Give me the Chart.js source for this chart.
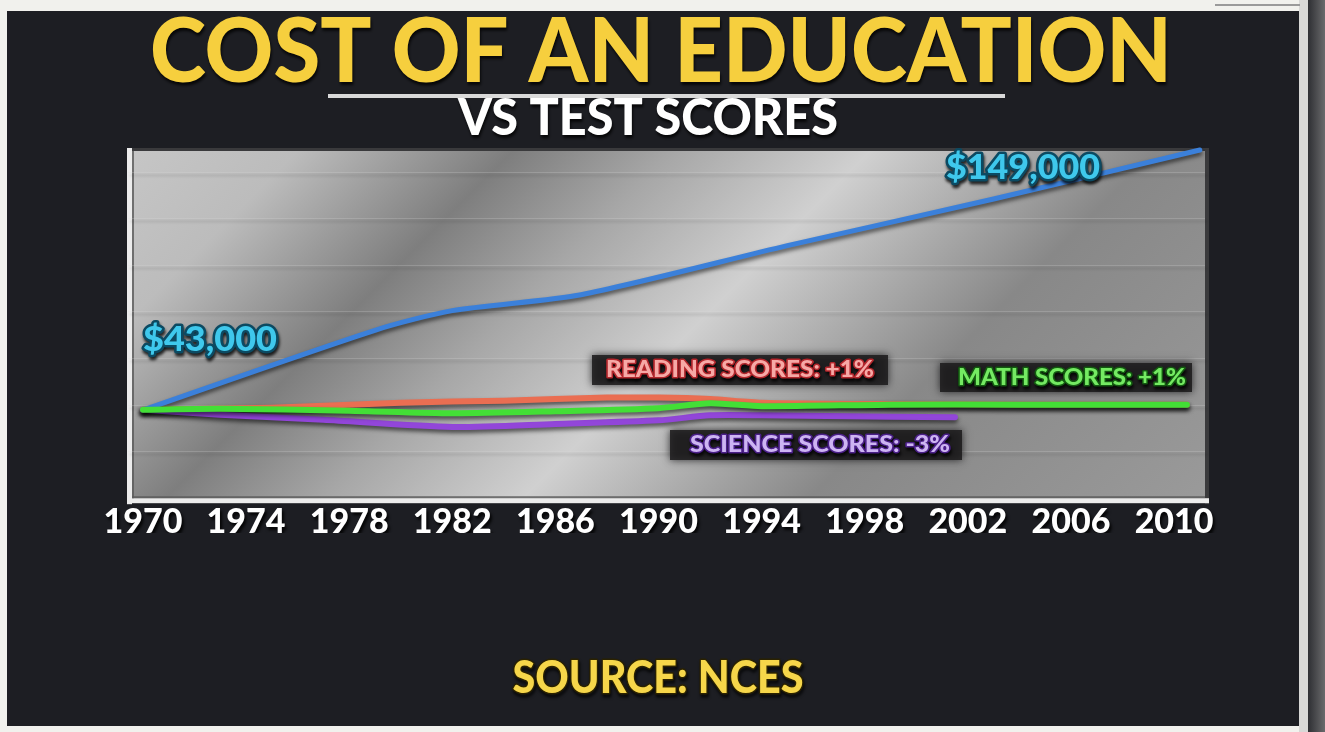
<!DOCTYPE html>
<html>
<head>
<meta charset="utf-8">
<title>Cost of an Education vs Test Scores</title>
<script src="https://cdn.jsdelivr.net/npm/chart.js@4.4.1/dist/chart.umd.min.js"></script>
<style>
  html, body { margin: 0; padding: 0; background: #f1f1ed; overflow: hidden; }
  canvas { display: block; }
</style>
</head>
<body>
<canvas id="eduChart" width="1325" height="732"></canvas>
<script>
// tick labels on the x axis
var yearTicks = [1970, 1974, 1978, 1982, 1986, 1990, 1994, 1998, 2002, 2006, 2010];

// cost of an education, thousands of dollars
var costYears = [1970, 1979, 1982, 1987, 1995, 2003, 2011];
var costValues = [43, 75.5, 83.5, 90, 110, 129, 149];

// test scores, percent change since 1970
var readingYears = [1970, 1975, 1980, 1984, 1988, 1990, 1992, 1994, 1999, 2004, 2010.5];
var readingValues = [0, 0.4, 1.4, 1.8, 2.4, 2.4, 2.1, 1.4, 1.1, 1.0, 1.0];

var mathYears = [1970, 1973, 1978, 1982, 1986, 1990, 1992, 1994, 1999, 2004, 2010.5];
var mathValues = [0, 0.2, -0.2, -0.7, -0.3, 0.3, 1.3, 0.7, 1.0, 1.0, 1.0];

var scienceYears = [1970, 1973, 1977, 1982, 1986, 1990, 1992, 1994, 1999, 2001.5];
var scienceValues = [0, -1.0, -2.0, -3.4, -2.8, -2.1, -1.1, -1.1, -1.4, -1.5];

// faint horizontal guide lines (cost axis units)
var gridValues = [26, 45, 64, 83, 102, 121, 140];

function pairs(xs, ys) {
    return xs.map(function (x, i) { return { x: x, y: ys[i] }; });
}

// text stretched to a given width, with optional outline and drop shadow
function outlined(ctx, text, x, y, size, fill, stroke, lw, width) {
    ctx.save();
    ctx.font = '900 ' + size + 'px Lato, "DejaVu Sans", sans-serif';
    ctx.textAlign = 'center';
    ctx.textBaseline = 'middle';
    ctx.lineJoin = 'round';
    var w = ctx.measureText(text).width;
    ctx.translate(x, y);
    ctx.scale(width / w, 1);
    ctx.shadowColor = 'rgba(0,0,0,0.8)';
    ctx.shadowBlur = 3;
    ctx.shadowOffsetX = 1;
    ctx.shadowOffsetY = 3;
    if (stroke) {
        ctx.strokeStyle = stroke;
        ctx.lineWidth = lw;
        ctx.strokeText(text, 0, 0);
        ctx.shadowColor = 'transparent';
    }
    ctx.fillStyle = fill;
    ctx.fillText(text, 0, 0);
    ctx.restore();
}

function labelBox(ctx, x0, y0, x1, y1) {
    ctx.save();
    ctx.shadowColor = 'rgba(15,15,18,0.9)';
    ctx.shadowBlur = 8;
    ctx.fillStyle = 'rgba(30,28,30,0.88)';
    ctx.fillRect(x0, y0, x1 - x0, y1 - y0);
    ctx.restore();
}

var backdrop = {
    id: 'backdrop',
    beforeDraw: function (chart) {
        var ctx = chart.ctx, a = chart.chartArea;
        ctx.save();
        ctx.fillStyle = '#f1f1ed';
        ctx.fillRect(0, 0, chart.width, chart.height);
        ctx.fillStyle = '#1d1e23';
        ctx.fillRect(7, 11, 1292, 715);
        ctx.fillStyle = '#d8d8d6';
        ctx.fillRect(1299, 0, 9, chart.height);
        var side = ctx.createLinearGradient(1308, 0, 1325, 0);
        side.addColorStop(0, '#2e2f33');
        side.addColorStop(1, '#6a6a6c');
        ctx.fillStyle = side;
        ctx.fillRect(1308, 0, 17, chart.height);
        ctx.fillStyle = '#9a9a9a';
        ctx.fillRect(1215, 4, 85, 2);

        // plot panel with diagonal light bands
        var d = ((a.right - a.left) + (a.bottom - a.top)) / 2;
        var g = ctx.createLinearGradient(a.left, a.top, a.left + d, a.top + d);
        g.addColorStop(0, '#c6c6c6');
        g.addColorStop(0.12, '#bcbcbc');
        g.addColorStop(0.27, '#7e7e7e');
        g.addColorStop(0.38, '#a6a6a6');
        g.addColorStop(0.52, '#d0d0d0');
        g.addColorStop(0.72, '#888888');
        g.addColorStop(1, '#9a9a9a');
        ctx.fillStyle = g;
        ctx.fillRect(a.left, a.top, a.right - a.left, a.bottom - a.top);

        // bevelled frame
        ctx.fillStyle = '#3a3a3c';
        ctx.fillRect(a.left, a.top - 2, a.right - a.left + 3, 3);
        ctx.fillRect(a.right, a.top - 2, 4, a.bottom - a.top + 4);
        ctx.fillStyle = '#ececec';
        ctx.fillRect(a.left - 1, a.top - 2, 5, a.bottom - a.top + 4);
        ctx.fillRect(a.left - 1, a.bottom - 4, a.right - a.left + 5, 5);
        ctx.fillStyle = 'rgba(90,90,90,0.8)';
        ctx.fillRect(a.left + 4, a.top + 1, 2, a.bottom - a.top - 5);
        ctx.fillRect(a.left + 4, a.bottom - 6, a.right - a.left - 4, 2);

        // heading
        outlined(ctx, 'COST OF AN EDUCATION', 661, 53, 90, '#f6cf3e', null, 0, 1022);
        ctx.fillStyle = '#d9d9d9';
        ctx.fillRect(328, 94, 677, 4);
        outlined(ctx, 'VS TEST SCORES', 648, 119, 51, '#ffffff', null, 0, 380);
        ctx.restore();

        // shadow for tick labels drawn next
        ctx.shadowColor = 'rgba(0,0,0,0.85)';
        ctx.shadowBlur = 3;
        ctx.shadowOffsetX = 2;
        ctx.shadowOffsetY = 3;
    },
    beforeDatasetsDraw: function (chart) {
        var ctx = chart.ctx;
        ctx.shadowColor = 'transparent';
        ctx.shadowBlur = 0;
        ctx.shadowOffsetX = 0;
        ctx.shadowOffsetY = 0;
    },
    beforeDatasetDraw: function (chart) {
        var ctx = chart.ctx;
        ctx.save();
        ctx.shadowColor = 'rgba(0,0,0,0.6)';
        ctx.shadowBlur = 4;
        ctx.shadowOffsetY = 3;
    },
    afterDatasetDraw: function (chart) {
        chart.ctx.restore();
    },
    afterDraw: function (chart) {
        var ctx = chart.ctx;
        outlined(ctx, '$43,000', 210, 340, 35, '#3fc8ec', '#0c4a62', 5, 134);
        outlined(ctx, '$149,000', 1023, 168, 35, '#3fc8ec', '#0c4a62', 5, 154);

        labelBox(ctx, 592, 355, 888, 385);
        outlined(ctx, 'READING SCORES: +1%', 740, 370, 22, '#f6a9a6', '#b3262c', 3, 268);
        labelBox(ctx, 940, 363, 1192, 392);
        outlined(ctx, 'MATH SCORES: +1%', 1072, 378, 22, '#74ea62', '#135a10', 3, 228);
        labelBox(ctx, 670, 430, 962, 460);
        outlined(ctx, 'SCIENCE SCORES: -3%', 820, 445, 22, '#cdb4f2', '#4a1f88', 3, 260);

        outlined(ctx, 'SOURCE: NCES', 658, 678, 45, '#f6d64a', '#2b2200', 3, 291);
    }
};

var ctx = document.getElementById('eduChart').getContext('2d');
var eduChart = new Chart(ctx, {
    type: 'line',
    data: {
        datasets: [{
            label: 'Math scores',
            data: pairs(mathYears, mathValues),
            yAxisID: 'score',
            borderColor: '#43df36',
            borderWidth: 6,
            order: 1
        }, {
            label: 'Cost of an education',
            data: pairs(costYears, costValues),
            yAxisID: 'y',
            borderColor: '#3b80da',
            borderWidth: 5,
            order: 2
        }, {
            label: 'Science scores',
            data: pairs(scienceYears, scienceValues),
            yAxisID: 'score',
            borderColor: '#9246d9',
            borderWidth: 6,
            order: 3
        }, {
            label: 'Reading scores',
            data: pairs(readingYears, readingValues),
            yAxisID: 'score',
            borderColor: '#ea6e52',
            borderWidth: 6,
            order: 4
        }]
    },
    options: {
        responsive: false,
        animation: false,
        clip: 8,
        layout: { padding: { left: 128, right: 120, top: 150, bottom: 199 } },
        elements: {
            point: { radius: 0, hoverRadius: 0 },
            line: { tension: 0.25, borderCapStyle: 'round', fill: false }
        },
        scales: {
            x: {
                type: 'linear',
                min: 1969.42,
                max: 2011.2,
                afterBuildTicks: function (axis) {
                    axis.ticks = yearTicks.map(function (v) { return { value: v }; });
                },
                grid: { display: false },
                border: { display: false },
                ticks: {
                    color: '#ffffff',
                    padding: -9,
                    maxRotation: 0,
                    autoSkip: false,
                    font: { family: 'Lato', weight: 900, size: 34 },
                    callback: function (v) { return String(v); }
                }
            },
            y: {
                min: 5.4,
                max: 149,
                afterBuildTicks: function (axis) {
                    axis.ticks = gridValues.map(function (v) { return { value: v }; });
                },
                ticks: { display: false },
                border: { display: false },
                grid: { color: 'rgba(225,225,225,0.22)', lineWidth: 1, drawTicks: false }
            },
            score: {
                display: false,
                min: -18.3,
                max: 51.4
            }
        },
        plugins: {
            legend: { display: false },
            tooltip: { enabled: false },
            title: { display: false }
        }
    },
    plugins: [backdrop]
});
</script>
</body>
</html>
